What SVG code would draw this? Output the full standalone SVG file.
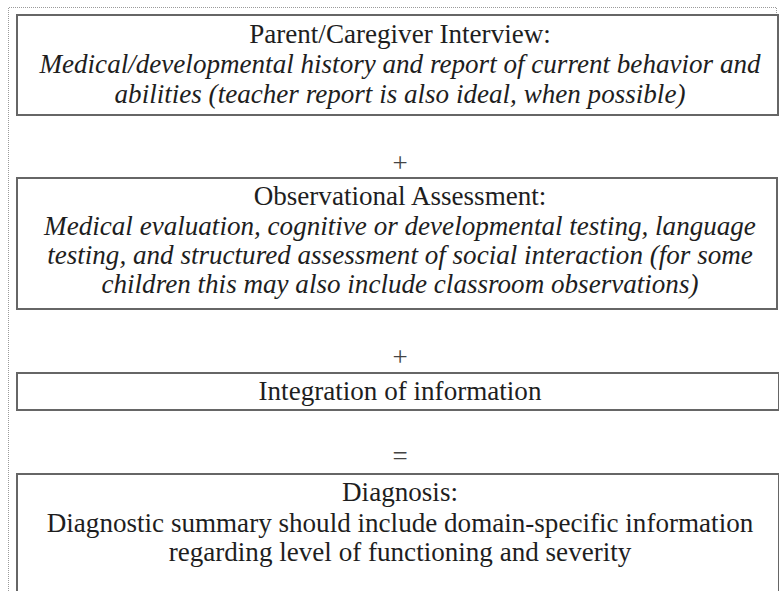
<svg xmlns="http://www.w3.org/2000/svg" width="779" height="591" viewBox="0 0 779 591">
<style>
.frame{fill:none;stroke:#9a9a9a;stroke-width:1;stroke-dasharray:1 1}
.box{fill:#ffffff;stroke:#666666;stroke-width:2}
.t{font-family:"Liberation Serif","Times New Roman",serif;font-size:27.1px;fill:#1e1e1e;text-anchor:middle}
.i{font-style:italic}
.op{font-family:"Liberation Serif","Times New Roman",serif;font-size:27px;fill:#444444;text-anchor:middle}
</style>
<rect width="779" height="591" fill="#ffffff"/>
<path class="frame" d="M8.5 591 V7.5 H776.5 V15"/>
<g id="node-interview">
<rect class="box" x="17" y="15" width="761" height="100"/>
<text class="t" x="400" y="43">Parent/Caregiver Interview:</text>
<text class="t i" x="400" y="73">Medical/developmental history and report of current behavior and</text>
<text class="t i" x="400" y="103">abilities (teacher report is also ideal, when possible)</text>
</g>
<g id="node-observational">
<rect class="box" x="17" y="178" width="760" height="131"/>
<text class="t" x="400" y="205">Observational Assessment:</text>
<text class="t i" x="400" y="235">Medical evaluation, cognitive or developmental testing, language</text>
<text class="t i" x="400" y="264">testing, and structured assessment of social interaction (for some</text>
<text class="t i" x="400" y="293">children this may also include classroom observations)</text>
</g>
<g id="node-integration">
<rect class="box" x="17" y="373" width="762" height="37"/>
<text class="t" x="400" y="400">Integration of information</text>
</g>
<g id="node-diagnosis">
<rect class="box" x="17" y="474" width="762" height="130"/>
<text class="t" x="400" y="501">Diagnosis:</text>
<text class="t" x="400" y="532">Diagnostic summary should include domain-specific information</text>
<text class="t" x="400" y="561">regarding level of functioning and severity</text>
</g>
<g id="connectors">
<text class="op" x="400" y="172">+</text>
<text class="op" x="400" y="366">+</text>
<text class="op" x="400" y="465">=</text>
</g>
</svg>
